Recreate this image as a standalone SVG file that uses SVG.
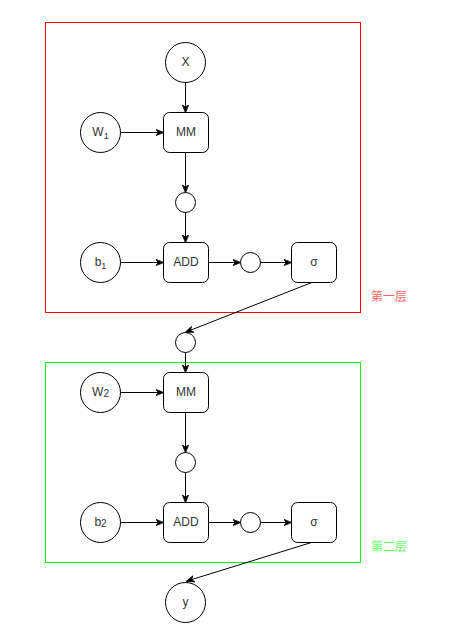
<svg xmlns="http://www.w3.org/2000/svg" width="459" height="640" viewBox="0 0 459 640">
<style>
.n{fill:#fff;stroke:#000;stroke-width:1}
.t{font-family:"Liberation Sans",Arial,sans-serif;font-size:12px;fill:#333;text-anchor:middle}
.c{stroke:#000;stroke-width:1;fill:none;marker-end:url(#a)}
.lbl{font-family:"Noto Sans CJK SC","Liberation Sans",sans-serif;font-size:12px;text-anchor:middle}
</style>
<defs>
<marker id="a" viewBox="0 0 10 10" refX="9" refY="5" markerWidth="8" markerHeight="8" markerUnits="userSpaceOnUse" orient="auto">
<path d="M0,1 L10,5 L0,9 L3,5 Z" fill="#000" stroke="#000" stroke-width="1"/>
</marker>
</defs>
<rect width="459" height="640" fill="#fff"/>
<g id="layer1"><rect x="45.5" y="22.5" width="315" height="290" fill="none" stroke="#FF0000"/></g>
<g id="layer2"><rect x="45.5" y="362.5" width="315" height="200" fill="none" stroke="#00FF00"/></g>
<g id="label1"><text class="lbl" x="389" y="301" fill="#FF6666">第一层</text></g>
<g id="label2"><text class="lbl" x="389" y="551" fill="#66FF66">第二层</text></g>
<g id="connectors">
<line class="c" x1="185.5" y1="82" x2="185.5" y2="112"/>
<line class="c" x1="120" y1="132.5" x2="163" y2="132.5"/>
<line class="c" x1="185.5" y1="152" x2="185.5" y2="192"/>
<line class="c" x1="185.5" y1="212" x2="185.5" y2="242"/>
<line class="c" x1="120" y1="262.5" x2="163" y2="262.5"/>
<line class="c" x1="208" y1="262.5" x2="240" y2="262.5"/>
<line class="c" x1="260" y1="262.5" x2="291" y2="262.5"/>
<line class="c" x1="313" y1="282" x2="186" y2="332"/>
<line class="c" x1="185.5" y1="352" x2="185.5" y2="372"/>
<line class="c" x1="120" y1="392.5" x2="163" y2="392.5"/>
<line class="c" x1="185.5" y1="412" x2="185.5" y2="452"/>
<line class="c" x1="185.5" y1="472" x2="185.5" y2="502"/>
<line class="c" x1="120" y1="522.5" x2="163" y2="522.5"/>
<line class="c" x1="208" y1="522.5" x2="240" y2="522.5"/>
<line class="c" x1="260" y1="522.5" x2="291" y2="522.5"/>
<line class="c" x1="313" y1="542" x2="187" y2="581"/>
</g>
<g id="X"><circle class="n" cx="185.5" cy="62.5" r="20"/><text class="t" x="185.5" y="66">X</text></g>
<g id="W1"><circle class="n" cx="100.5" cy="132.5" r="20"/><text class="t" x="100.5" y="136">W<tspan font-size="9" dy="3">1</tspan></text></g>
<g id="MM1"><rect class="n" x="163.5" y="112.5" width="45" height="40" rx="6"/><text class="t" x="186" y="136">MM</text></g>
<g id="h1"><circle class="n" cx="185.5" cy="202.5" r="10"/></g>
<g id="b1"><circle class="n" cx="100.5" cy="262.5" r="20"/><text class="t" x="100.5" y="266">b<tspan font-size="9" dy="3">1</tspan></text></g>
<g id="ADD1"><rect class="n" x="163.5" y="242.5" width="45" height="40" rx="6"/><text class="t" x="186" y="266">ADD</text></g>
<g id="s1"><circle class="n" cx="250.5" cy="262.5" r="10"/></g>
<g id="sigma1"><rect class="n" x="291.5" y="242.5" width="45" height="40" rx="6"/><text class="t" x="314" y="266">σ</text></g>
<g id="h2"><circle class="n" cx="185.5" cy="342.5" r="10"/></g>
<g id="W2"><circle class="n" cx="100.5" cy="392.5" r="20"/><text class="t" x="100.5" y="396">W<tspan font-size="10" dy="1">2</tspan></text></g>
<g id="MM2"><rect class="n" x="163.5" y="372.5" width="45" height="40" rx="6"/><text class="t" x="186" y="396">MM</text></g>
<g id="h3"><circle class="n" cx="185.5" cy="462.5" r="10"/></g>
<g id="b2"><circle class="n" cx="100.5" cy="522.5" r="20"/><text class="t" x="100.5" y="526">b<tspan font-size="10" dy="1">2</tspan></text></g>
<g id="ADD2"><rect class="n" x="163.5" y="502.5" width="45" height="40" rx="6"/><text class="t" x="186" y="526">ADD</text></g>
<g id="s2"><circle class="n" cx="250.5" cy="522.5" r="10"/></g>
<g id="sigma2"><rect class="n" x="291.5" y="502.5" width="45" height="40" rx="6"/><text class="t" x="314" y="526">σ</text></g>
<g id="y"><circle class="n" cx="185.5" cy="602.5" r="20"/><text class="t" x="185.5" y="606">y</text></g>
</svg>
